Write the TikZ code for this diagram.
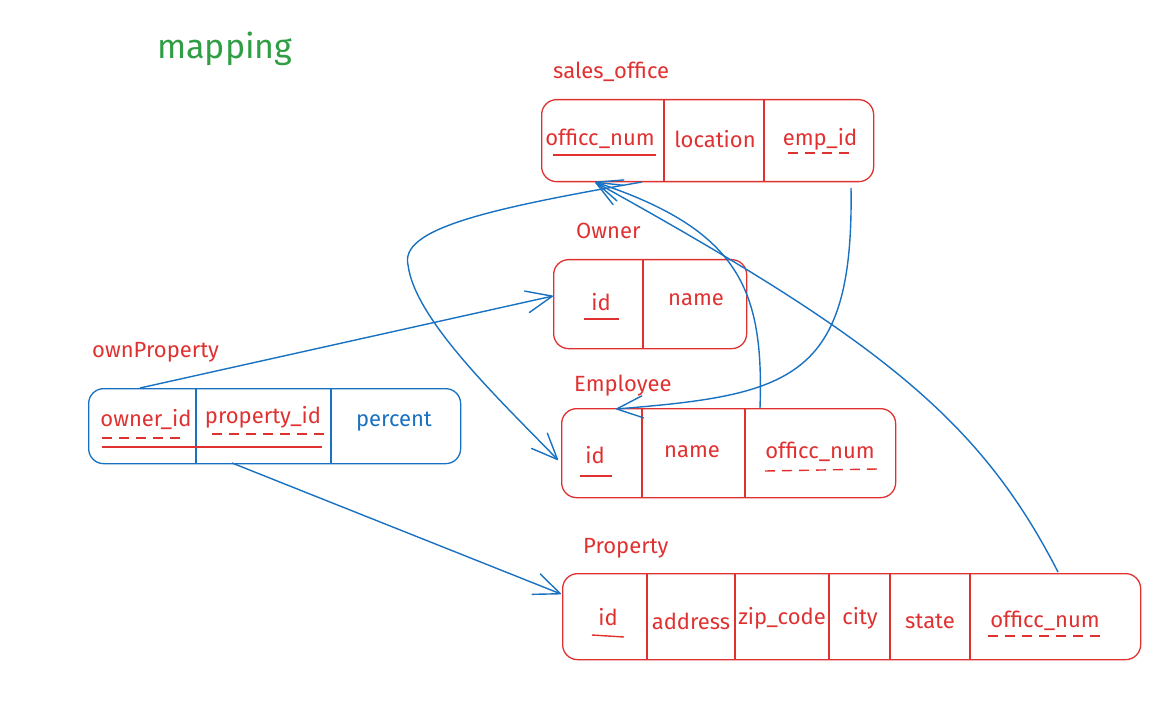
\documentclass[tikz,border=0pt]{standalone}
\usepackage{fontspec}
\setmainfont{Fira Sans}
\usetikzlibrary{arrows.meta}
\definecolor{xred}{HTML}{E03131}
\definecolor{xblue}{HTML}{1971C2}
\definecolor{xgreen}{HTML}{2F9E44}
\begin{document}
\begin{tikzpicture}[x=1pt,y=-1pt,
  tbl/.style={draw=xred, line width=1.3pt, rounded corners=15pt, inner sep=0pt, anchor=north west},
  btbl/.style={tbl, draw=xblue},
  div/.style={draw=xred, line width=1.3pt},
  bdiv/.style={draw=xblue, line width=1.3pt},
  fld/.style={text=xred, font=\fontsize{22}{26}\selectfont, inner sep=1pt},
  bfld/.style={fld, text=xblue},
  ttl/.style={text=xred, font=\fontsize{22}{26}\selectfont, anchor=west, inner sep=0pt},
  ul/.style={draw=xred, line width=1.4pt},
  dul/.style={ul, dash pattern=on 10pt off 7pt},
  conn/.style={draw=xblue, line width=1.4pt, -{Straight Barb[length=26pt,width=22pt,line width=1.4pt,round]}}]
\useasboundingbox (0,0) rectangle (1159,703);

% title
\node[text=xgreen, font=\fontsize{34}{38}\selectfont, anchor=west, inner sep=0pt] (map) at (157,49) {mapping};

% sales_office
\node[ttl] (soT) at (553,72) {sales\_office};
\node[tbl, minimum width=332pt, minimum height=82pt] (so) at (541,99) {};
\draw[div] (664,99) -- (664,181);
\draw[div] (764,99) -- (764,181);
\node[fld] (so1) at (600,139) {officc\_num};
\node[fld] (so2) at (715,139) {location};
\node[fld] (so3) at (820,139) {emp\_id};
\draw[ul] (553,155) -- (656,155);
\draw[dul] (788,153) -- (852,153);

% Owner
\node[ttl] (owT) at (576,231) {Owner};
\node[tbl, minimum width=193pt, minimum height=89pt] (ow) at (553,259) {};
\draw[div] (643,259) -- (643,348);
\node[fld] (ow1) at (601,302) {id};
\node[fld] (ow2) at (696,300) {name};
\draw[ul] (584,319) -- (619,319);

% Employee
\node[ttl] (emT) at (574,386) {Employee};
\node[tbl, minimum width=334pt, minimum height=89pt] (em) at (561,408) {};
\draw[div] (642,408) -- (642,497);
\draw[div] (745,408) -- (745,497);
\node[fld] (em1) at (595,455) {id};
\node[fld] (em2) at (692,452) {name};
\node[fld] (em3) at (820,452) {officc\_num};
\draw[ul] (580,476) -- (612,476);
\draw[dul] (765,471) -- (878,469);

% Property
\node[ttl] (prT) at (583,548) {Property};
\node[tbl, minimum width=578pt, minimum height=86pt] (pr) at (562,573) {};
\foreach \xx in {647,735,829,890,970} \draw[div] (\xx,573) -- (\xx,659);
\node[fld] (pr1) at (608,617) {id};
\node[fld] (pr2) at (691,621) {address};
\node[fld] (pr3) at (782,618) {zip\_code};
\node[fld] (pr4) at (860,618) {city};
\node[fld] (pr5) at (930,621) {state};
\node[fld] (pr6) at (1045,621) {officc\_num};
\draw[ul] (592,635) -- (624,637);
\draw[dul] (988,636) -- (1106,636);

% ownProperty
\node[ttl] (opT) at (92,352) {ownProperty};
\node[btbl, minimum width=372pt, minimum height=75pt] (op) at (88,388) {};
\draw[bdiv] (196,388) -- (196,463);
\draw[bdiv] (331,388) -- (331,463);
\node[fld] (op1) at (146,419) {owner\_id};
\node[fld] (op2) at (263,417) {property\_id};
\node[bfld] (op3) at (394,422) {percent};
\draw[dul] (102,438) -- (186,438);
\draw[dul] (212,434) -- (325,434);
\draw[ul] (102,447) -- (322,447);

% connector end points on the boxes
\coordinate (opTop) at (140,388);
\coordinate (opBot) at (232,463);
\coordinate (owL) at (553,296);
\coordinate (prL) at (561,594);
\coordinate (soB1) at (595,182);
\coordinate (soB2) at (642,182);
\coordinate (soB3) at (851,188);
\coordinate (emTop) at (760,408);
\coordinate (emIdT) at (616,409);
\coordinate (emL) at (558,460);
\coordinate (prTop) at (1058,572);

% connectors
\draw[conn] (opTop) -- (owL);
\draw[conn] (opBot) -- (prL);
\draw[conn] (emTop) .. controls (764,290) and (740,230) .. (soB1);
\draw[conn] (prTop) .. controls (980,420) and (880,340) .. (soB1);
\draw[conn] (soB3) .. controls (854,380) and (790,395) .. (emIdT);
\draw[conn] (soB2) .. controls (480,210) and (400,230) .. (408,265) .. controls (415,320) and (500,400) .. (emL);
\end{tikzpicture}
\end{document}
